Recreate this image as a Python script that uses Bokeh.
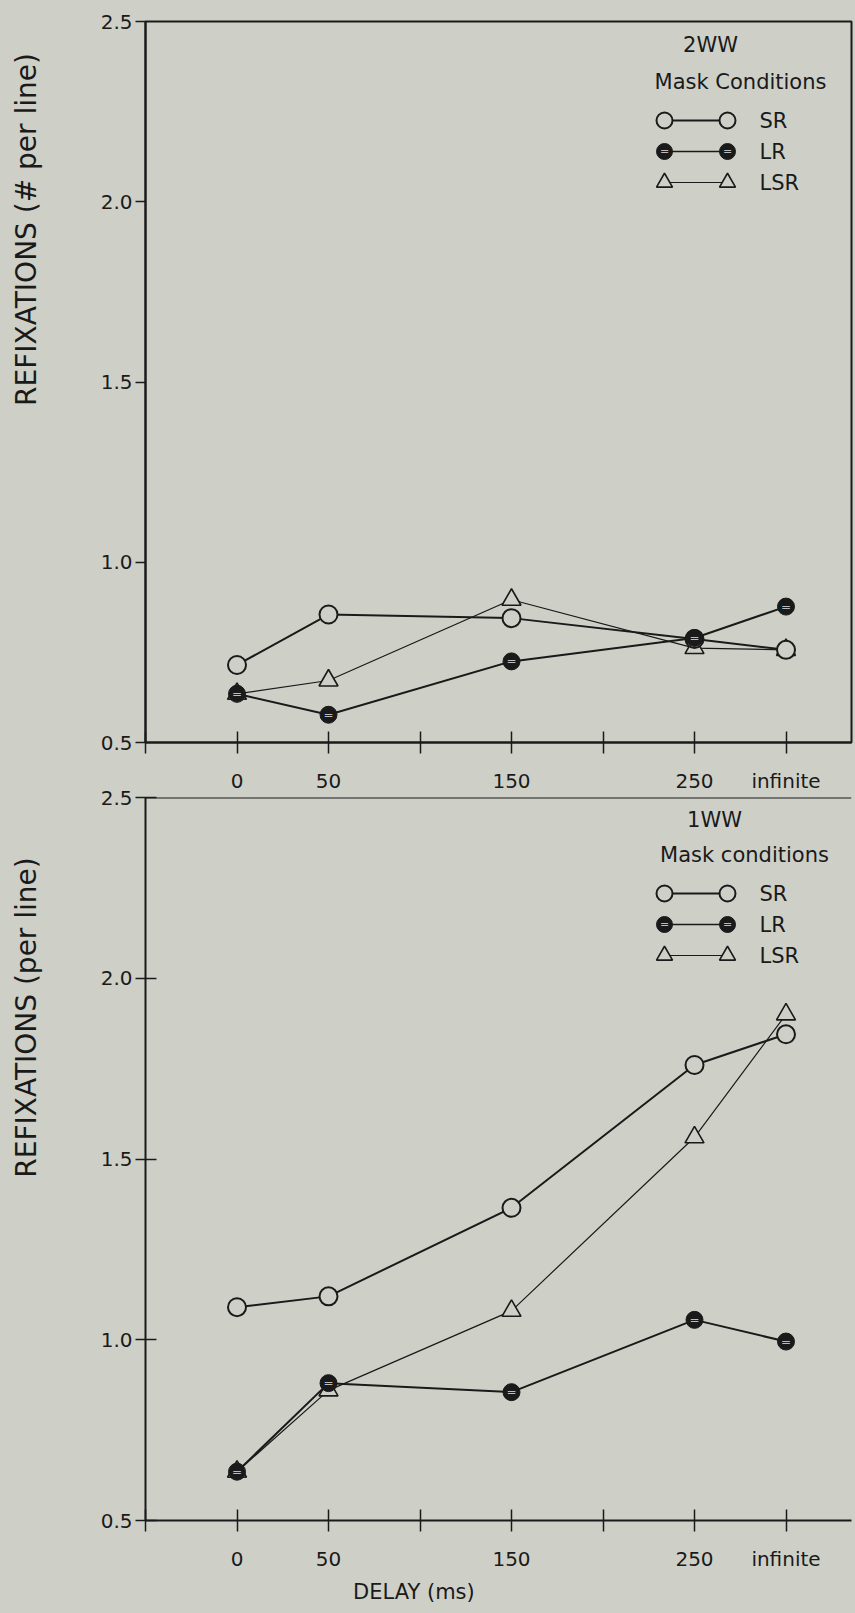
import math
from bokeh.plotting import figure
from bokeh.models import Range1d, FixedTicker, Label, Span, PrintfTickFormatter, Title
from bokeh.layouts import column, row
from bokeh.embed import file_html
from bokeh.resources import INLINE
from bokeh.core.properties import value

# ---------------- data ----------------
delay_labels = ["0", "50", "150", "250", "infinite"]
delay_pos = [0, 50, 150, 250, 300]
extra_ticks = [-50, 100, 200]          # unlabeled tick marks

top_sr = [0.715, 0.855, 0.845, 0.787, 0.757]
top_lr = [0.635, 0.577, 0.725, 0.790, 0.877]
top_lsr = [0.635, 0.672, 0.896, 0.762, 0.757]

bot_sr = [1.09, 1.12, 1.365, 1.76, 1.845]
bot_lr = [0.635, 0.88, 0.855, 1.055, 0.995]
bot_lsr = [0.635, 0.86, 1.08, 1.56, 1.90]

y_ticks = [0.5, 1.0, 1.5, 2.0, 2.5]
series_names = ["SR", "LR", "LSR"]
y_titles = ["REFIXATIONS (# per line)", "REFIXATIONS (per line)"]
x_title_text = "DELAY (ms)"

# ---------------- style / layout ----------------
BG = "#ced0c8"
INK = "#1a1a1a"
FONT = "DejaVu Sans"
TICK_FS = "20px"
LEG_FS = "21px"
AXLAB_FS = "28px"
PAGE_W, PAGE_H = 855, 1612
LAB_W = 60                          # strip holding the rotated y titles
FIG_W = PAGE_W - LAB_W
B_LEFT, B_RIGHT = 85, 4
FRAME_LEFT_PAGE = LAB_W + B_LEFT
FRAME_W = FIG_W - B_LEFT - B_RIGHT
X_RANGE = (-50, -50 + FRAME_W / 1.83)
Y_RANGE = (0.5, 2.5)

TOP_H, TOP_BT, TOP_FH = 795, 21, 721
BOT_MARGIN_TOP = -18
BOT_BT, BOT_FH = 20, 723
BOT_H = PAGE_H - TOP_H - BOT_MARGIN_TOP
TOP_PAGE_Y = 0
BOT_PAGE_Y = TOP_PAGE_Y + TOP_H + BOT_MARGIN_TOP


def make_fig(height, b_top, frame_h, tick_in_y, opaque):
    p = figure(width=FIG_W, height=height, output_backend="svg", toolbar_location=None,
               x_range=Range1d(*X_RANGE), y_range=Range1d(*Y_RANGE),
               min_border_left=B_LEFT, min_border_right=B_RIGHT,
               min_border_top=b_top, min_border_bottom=height - b_top - frame_h)
    p.background_fill_color = BG
    p.border_fill_color = BG
    p.border_fill_alpha = 1.0 if opaque else 0.0
    p.grid.grid_line_color = None
    ticks = sorted(delay_pos + extra_ticks)
    overrides = {t: "" for t in extra_ticks}
    for pos, lab in zip(delay_pos, delay_labels):
        overrides[pos] = lab
    p.xaxis.ticker = FixedTicker(ticks=ticks)
    p.xaxis.major_label_overrides = overrides
    p.xaxis.major_tick_in = 11
    p.xaxis.major_tick_out = 11
    p.xaxis.major_label_standoff = 15
    p.yaxis.ticker = FixedTicker(ticks=y_ticks)
    p.yaxis.formatter = PrintfTickFormatter(format="%.1f")
    p.yaxis.major_tick_out = 10
    p.yaxis.major_tick_in = tick_in_y
    p.yaxis.major_label_standoff = 3
    for ax in (p.xaxis, p.yaxis):
        ax.minor_tick_line_color = None
        ax.axis_line_width = 2
        ax.axis_line_color = INK
        ax.major_tick_line_width = 1.5
        ax.major_tick_line_color = INK
        ax.major_label_text_font = FONT
        ax.major_label_text_font_size = TICK_FS
        ax.major_label_text_color = INK
    return p


def draw_series(p, sr, lr, lsr):
    p.line(delay_pos, sr, line_color=INK, line_width=2)
    p.line(delay_pos, lr, line_color=INK, line_width=2)
    p.line(delay_pos, lsr, line_color=INK, line_width=1.2)
    p.scatter(delay_pos, lsr, marker="triangle", size=19, line_color=INK, line_width=1.6,
              fill_color=BG)
    p.scatter(delay_pos, sr, marker="circle", size=18, line_color=INK, line_width=2,
              fill_color=BG)
    p.scatter(delay_pos, lr, marker="circle", size=17, line_color=INK, line_width=1,
              fill_color=INK)
    p.text(delay_pos, lr, text=["="] * len(lr), text_align="center", text_baseline="middle",
           text_color="#bdbdbd", text_font_size="12px", text_font=value(FONT))


def page_label(p, frame_bottom_page, px, py, text, size, align="center"):
    # screen units are measured from the frame's lower-left corner
    p.add_layout(Label(x=px - FRAME_LEFT_PAGE, y=frame_bottom_page - py, x_units="screen",
                       y_units="screen", text=text, text_align=align,
                       text_baseline="middle", text_font=FONT, text_font_size=size,
                       text_color=INK))


def legend(p, frame_top_page, frame_h, title, subtitle, title_pos, sub_pos, rows_y,
           mx1, mx2, tx):
    sx = FRAME_W / (X_RANGE[1] - X_RANGE[0])
    sy = frame_h / (Y_RANGE[1] - Y_RANGE[0])
    fx = lambda px: X_RANGE[0] + (px - FRAME_LEFT_PAGE) / sx
    fy = lambda py: Y_RANGE[1] - (py - frame_top_page) / sy
    fb = frame_top_page + frame_h
    page_label(p, fb, title_pos[0], title_pos[1], title, LEG_FS)
    page_label(p, fb, sub_pos[0], sub_pos[1], subtitle, LEG_FS)
    for name, ry in zip(series_names, rows_y):
        xs = [fx(mx1), fx(mx2)]
        ys = [fy(ry), fy(ry)]
        if name == "SR":
            p.line(xs, ys, line_color=INK, line_width=2)
            p.scatter(xs, ys, marker="circle", size=16, line_color=INK, line_width=2,
                      fill_color=BG)
        elif name == "LR":
            p.line(xs, ys, line_color=INK, line_width=1.5)
            p.scatter(xs, ys, marker="circle", size=16, line_color=INK, fill_color=INK)
            p.text(xs, ys, text=["=", "="], text_align="center", text_baseline="middle",
                   text_color="#bdbdbd", text_font_size="11px", text_font=value(FONT))
        else:
            p.line(xs, ys, line_color=INK, line_width=1.2)
            p.scatter(xs, ys, marker="triangle", size=16, line_color=INK, line_width=1.6,
                      fill_color=BG)
        page_label(p, fb, tx, ry, name, LEG_FS, align="left")


# ---------------- top panel (2WW) ----------------
top = make_fig(TOP_H, TOP_BT, TOP_FH, 0, True)
top.outline_line_color = INK
top.outline_line_width = 2
draw_series(top, top_sr, top_lr, top_lsr)
top_frame_top = TOP_PAGE_Y + TOP_BT
legend(top, top_frame_top, TOP_FH, "2WW", "Mask Conditions", (710, 44), (740, 81),
       [120, 151, 182], 664, 727, 759)

# ---------------- bottom panel (1WW) ----------------
bot = make_fig(BOT_H, BOT_BT, BOT_FH, 11, False)
bot.outline_line_color = None
bot.margin = (BOT_MARGIN_TOP, 0, 0, 0)
bot.add_layout(Span(location=Y_RANGE[1], dimension="width", line_color=INK, line_width=2))
draw_series(bot, bot_sr, bot_lr, bot_lsr)
bot_frame_top = BOT_PAGE_Y + BOT_BT
legend(bot, bot_frame_top, BOT_FH, "1WW", "Mask conditions", (714, 819), (744, 854),
       [893, 924, 955], 664, 727, 759)
DELAY_PX = 21
delay_len = DELAY_PX * 5.85           # approx. advance width of the text in DejaVu Sans
bot.add_layout(Title(text=x_title_text, align="left",
                     offset=414 - delay_len / 2 - FRAME_LEFT_PAGE, standoff=8,
                     text_font=FONT, text_font_size="%dpx" % DELAY_PX,
                     text_font_style="normal", text_color=INK), "below")

# ---------------- strip with the rotated y-axis titles ----------------
strip = figure(width=LAB_W, height=PAGE_H, output_backend="svg", toolbar_location=None,
               x_axis_type=None, y_axis_type=None, x_range=Range1d(0, 1),
               y_range=Range1d(0, 1), min_border=0)
strip.outline_line_color = None
strip.grid.grid_line_color = None
strip.background_fill_color = BG
strip.border_fill_color = BG
for text, center_y in zip(y_titles, [229, 1017]):
    strip.add_layout(Label(x=26, y=PAGE_H - center_y, x_units="screen", y_units="screen",
                           text=text, angle=math.pi / 2, text_align="center",
                           text_baseline="middle", text_font=FONT, text_font_size=AXLAB_FS,
                           text_color=INK))

layout = row(strip, column(top, bot, spacing=0), spacing=0)
html = file_html(layout, INLINE, title="Refixations")
html = html.replace("</head>",
                    "<style>html, body {margin:0; padding:0; background-color:%s;}</style></head>" % BG,
                    1)
open("out.html", "w").write(html)
